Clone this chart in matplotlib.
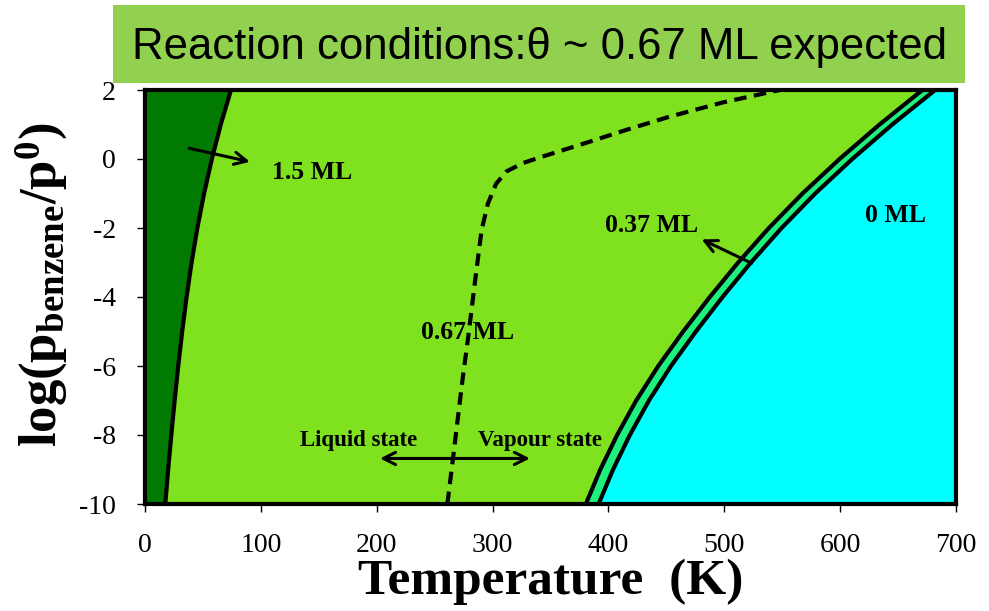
import matplotlib
matplotlib.use("Agg")
import matplotlib.pyplot as plt
from matplotlib.patches import Rectangle

plt.rcParams['font.family'] = ['Liberation Serif', 'DejaVu Serif']
plt.rcParams['axes.unicode_minus'] = False
plt.rcParams['mathtext.fontset'] = 'custom'
plt.rcParams['mathtext.rm'] = 'Liberation Serif'
plt.rcParams['mathtext.bf'] = 'Liberation Serif:bold'
plt.rcParams['mathtext.it'] = 'Liberation Serif:italic'

# ---------------- data ----------------
# 1.5 ML boundary (solid, left)
y_15 = [-10, -9, -8, -7, -6, -5, -4, -3, -2, -1, 0, 1, 2]
T_15 = [17.5, 20, 22.7, 25.6, 28.7, 32.1, 35.9, 40.2, 45.2, 51, 57.7, 65.4, 74.2]

# 0.67 ML iso-coverage (dashed)
y_067 = [-10, -8.63, -6.41, -5.15, -3.51, -2.06, -1.29, -0.72, -0.36, -0.12,
         0.07, 0.26, 0.46, 0.85, 1.23, 1.65, 2.0]
T_067 = [261, 266, 274, 279, 285, 290.5, 296, 303, 312, 326,
         343, 361, 380, 416, 453, 500, 548]

# 0.37 ML and 0 ML boundaries (right)
y_right = [-10, -9, -8, -7, -6, -5, -4, -3, -2, -1, 0, 1, 2]
T_037 = [380.5, 393, 407.5, 424, 443, 464.5, 487.5, 512, 538.5, 567.5, 599.5, 634, 671]
T_0 = [391.5, 404, 418.5, 435, 454, 475.5, 498.5, 523, 549.5, 578.5, 610.5, 645, 682]

x_ticks = [0, 100, 200, 300, 400, 500, 600, 700]
y_ticks = [-10, -8, -6, -4, -2, 0, 2]

title_text = "Reaction conditions:θ ~ 0.67 ML expected"

# ---------------- colours ----------------
c_dark = '#007A00'
c_light = '#80E21E'
c_band = '#1EF080'
c_cyan = '#00FFFF'
c_box = '#92D050'

fig = plt.figure(figsize=(9.89, 6.11), dpi=100)
ax = fig.add_axes([145/989, 1-504/611, (956-145)/989, (504-90)/611])
ax.set_facecolor(c_light)
ax.set_xlim(0, 700)
ax.set_ylim(-10, 2)

ax.fill_betweenx(y_15, 0, T_15, color=c_dark, lw=0, zorder=1)
ax.fill_betweenx(y_right, T_037, T_0, color=c_band, lw=0, zorder=1)
ax.fill_betweenx(y_right, T_0, 700, color=c_cyan, lw=0, zorder=1)

ax.plot(T_15, y_15, color='black', lw=3, zorder=3)
ax.plot(T_037, y_right, color='black', lw=3, zorder=3)
ax.plot(T_0, y_right, color='black', lw=3, zorder=3)
ax.plot(T_067, y_067, color='black', lw=3, ls=(0, (3, 1.8)), zorder=3)

# labels
lab = dict(fontweight='bold', ha='center', va='center', zorder=5)
ax.text(144, -0.38, '1.5 ML', fontsize=18.5, **lab)
ax.text(437, -1.94, '0.37 ML', fontsize=18.5, **lab)
ax.text(648, -1.65, '0 ML', fontsize=18.5, **lab)
ax.text(278, -5.04, '0.67 ML', fontsize=18.5, **lab)
ax.text(184, -8.17, 'Liquid state', fontsize=16.5, **lab)
ax.text(341, -8.17, 'Vapour state', fontsize=16.5, **lab)

arr = dict(arrowstyle='->', lw=2.2, color='black', mutation_scale=22,
           shrinkA=0, shrinkB=0)
ax.annotate('', xy=(90.6, -0.08), xytext=(38.2, 0.31), arrowprops=arr, zorder=6)
ax.annotate('', xy=(480.5, -2.33), xytext=(523.6, -3.02), arrowprops=arr, zorder=6)
arr2 = dict(arr)
arr2['arrowstyle'] = '<->'
ax.annotate('', xy=(332.3, -8.68), xytext=(202.8, -8.68), arrowprops=arr2, zorder=6)

# axes styling
for s in ax.spines.values():
    s.set_linewidth(3)
    s.set_zorder(10)
ax.set_xticks(x_ticks)
ax.set_yticks(y_ticks)
ax.tick_params(direction='out', length=6, width=1, labelsize=20, pad=15)
ax.set_xlabel('Temperature  (K)', fontsize=37, fontweight='bold', labelpad=0)
ax.set_ylabel(r'$\mathbf{log(p_{benzene}/p^{0})}$', fontsize=38)
ax.yaxis.set_label_coords(-0.092, 0.53)

# title banner
fig.patches.append(Rectangle((113/989, 1-83/611), (965-113)/989, 78/611,
                             transform=fig.transFigure, facecolor=c_box,
                             edgecolor='none', zorder=0))
fig.text(540/989, 1-47/611, title_text, fontsize=31.5, ha='center', va='center',
         family=['Liberation Sans', 'DejaVu Sans'])

fig.savefig('out.png', dpi=100)
